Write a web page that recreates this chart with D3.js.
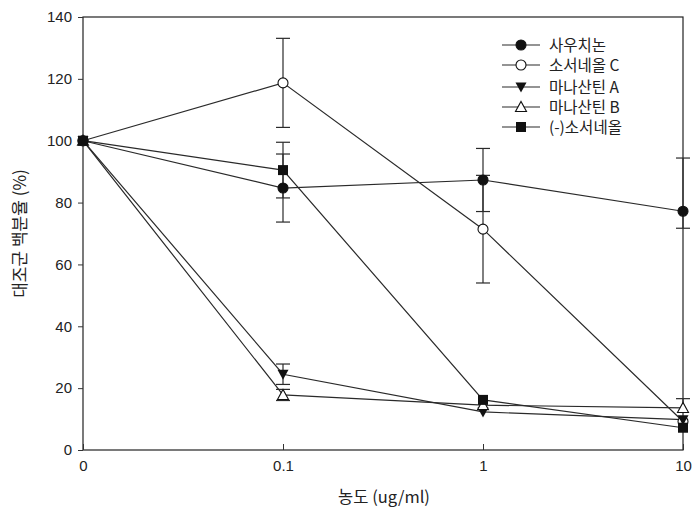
<!DOCTYPE html>
<html>
<head>
<meta charset="utf-8">
<script src="https://cdn.jsdelivr.net/npm/d3@7"></script>
<style>
  body { margin: 0; background: #fff; }
  svg { display: block; }
  text { font-family: "Noto Sans CJK KR", "Noto Sans", sans-serif; fill: #222; }
</style>
</head>
<body>
<svg id="chart" width="693" height="510"></svg>
<script>
// concentrations (equally spaced categories on the x axis)
const doses = ["0", "0.1", "1", "10"];

const seriesNames = ["사우치논", "소서네올 C", "마나산틴 A", "마나산틴 B", "(-)소서네올"];
const seriesSymbols = ["circleFilled", "circleOpen", "triangleDown", "triangleUpOpen", "square"];

// % of control
const sauchinone  = [100, 84.7, 87.3, 77.2];
const saucerneolC = [100, 118.7, 71.4, 9.2];
const manassantinA = [100, 24.5, 12.3, 9.8];
const manassantinB = [100, 17.8, 14.5, 13.6];
const saucerneolMinus = [100, 90.5, 16.2, 7.2];

// error bars: upper / lower extents
const sauchinoneErrUp  = [0, 11, 10.2, 17.2];
const sauchinoneErrLo  = [0, 11, 10.2, 5.5];
const saucerneolCErrUp = [0, 14.4, 17.4, 0];
const saucerneolCErrLo = [0, 14.4, 17.4, 0];
const manassantinAErrUp = [0, 3.3, 0, 0];
const manassantinAErrLo = [0, 3.3, 0, 0];
const manassantinBErrUp = [0, 1.8, 0, 3];
const manassantinBErrLo = [0, 1.8, 0, 0];
const saucerneolMinusErrUp = [0, 9, 0, 0];
const saucerneolMinusErrLo = [0, 9, 0, 0];

const yTicks = [0, 20, 40, 60, 80, 100, 120, 140];

const allValues = [sauchinone, saucerneolC, manassantinA, manassantinB, saucerneolMinus];
const allErrUp = [sauchinoneErrUp, saucerneolCErrUp, manassantinAErrUp, manassantinBErrUp, saucerneolMinusErrUp];
const allErrLo = [sauchinoneErrLo, saucerneolCErrLo, manassantinAErrLo, manassantinBErrLo, saucerneolMinusErrLo];

const svg = d3.select("#chart");
const plotLeft = 83, plotRight = 683, plotTop = 17, plotBottom = 450;

const x = d3.scalePoint().domain(doses).range([plotLeft, plotRight]).padding(0);
const y = d3.scaleLinear().domain([0, 140]).range([plotBottom, plotTop]);

const lineColor = "#2a2a2a";
const labelFont = "'Liberation Sans', Arial, sans-serif";

// frame
svg.append("rect")
  .attr("x", plotLeft).attr("y", plotTop)
  .attr("width", plotRight - plotLeft).attr("height", plotBottom - plotTop)
  .attr("fill", "none").attr("stroke", "#222").attr("stroke-width", 1.2);

// y axis
const yAxis = svg.append("g")
  .attr("transform", `translate(${plotLeft},0)`)
  .call(d3.axisLeft(y).tickValues(yTicks).tickSize(5).tickPadding(6));
yAxis.select(".domain").remove();
yAxis.selectAll("line").attr("stroke", "#333");
yAxis.selectAll("text").attr("font-size", 15).attr("fill", "#333")
  .style("font-family", labelFont);

// x axis (ticks pointing inward)
const xAxis = svg.append("g")
  .attr("transform", `translate(0,${plotBottom})`)
  .call(d3.axisBottom(x).tickSize(-6).tickPadding(10));
xAxis.select(".domain").remove();
xAxis.selectAll("line").attr("stroke", "#333");
xAxis.selectAll("text").attr("font-size", 15).attr("fill", "#333")
  .style("font-family", labelFont);

// axis titles
svg.append("text")
  .attr("x", 384).attr("y", 503)
  .attr("text-anchor", "middle").attr("font-size", 16.5).attr("fill", "#333")
  .text("농도 (ug/ml)");

svg.append("text")
  .attr("transform", `translate(26,${(plotTop + plotBottom) / 2}) rotate(-90)`)
  .attr("text-anchor", "middle").attr("font-size", 17).attr("fill", "#333")
  .text("대조군 백분율 (%)");

// lines
const line = d3.line().x((d, i) => x(doses[i])).y(d => y(d));
allValues.forEach(vals => {
  svg.append("path")
    .datum(vals)
    .attr("d", line)
    .attr("fill", "none")
    .attr("stroke", lineColor)
    .attr("stroke-width", 1.2);
});

// error bars
const capW = 7;
allValues.forEach((vals, s) => {
  vals.forEach((v, i) => {
    const up = allErrUp[s][i], lo = allErrLo[s][i];
    if (!up && !lo) return;
    const cx = x(doses[i]);
    const g = svg.append("g").attr("stroke", lineColor).attr("stroke-width", 1.2);
    g.append("line").attr("x1", cx).attr("x2", cx).attr("y1", y(v + up)).attr("y2", y(v - lo));
    if (up) g.append("line").attr("x1", cx - capW).attr("x2", cx + capW).attr("y1", y(v + up)).attr("y2", y(v + up));
    if (lo) g.append("line").attr("x1", cx - capW).attr("x2", cx + capW).attr("y1", y(v - lo)).attr("y2", y(v - lo));
  });
});

// markers
function drawSymbol(g, kind, cx, cy) {
  if (kind === "circleFilled" || kind === "circleOpen") {
    g.append("circle").attr("cx", cx).attr("cy", cy).attr("r", 5)
      .attr("fill", kind === "circleFilled" ? "#111" : "#fff")
      .attr("stroke", "#111").attr("stroke-width", 1.1);
  } else if (kind === "square") {
    g.append("rect").attr("x", cx - 5).attr("y", cy - 5).attr("width", 10).attr("height", 10)
      .attr("fill", "#111");
  } else if (kind === "triangleDown") {
    g.append("path")
      .attr("d", `M${cx - 5.5},${cy - 4.5}L${cx + 5.5},${cy - 4.5}L${cx},${cy + 5.5}Z`)
      .attr("fill", "#111");
  } else if (kind === "triangleUpOpen") {
    g.append("path")
      .attr("d", `M${cx - 5.5},${cy + 4.5}L${cx + 5.5},${cy + 4.5}L${cx},${cy - 5.5}Z`)
      .attr("fill", "#fff").attr("stroke", "#111").attr("stroke-width", 1.1);
  }
}

const markers = svg.append("g");
allValues.forEach((vals, s) => {
  vals.forEach((v, i) => drawSymbol(markers, seriesSymbols[s], x(doses[i]), y(v)));
});

// legend
const legend = svg.append("g");
const legendRows = [45, 65, 87, 107, 127];
seriesNames.forEach((name, s) => {
  const ly = legendRows[s];
  legend.append("line").attr("x1", 502).attr("x2", 540).attr("y1", ly).attr("y2", ly)
    .attr("stroke", lineColor).attr("stroke-width", 1.2);
  drawSymbol(legend, seriesSymbols[s], 521, ly);
  legend.append("text").attr("x", 549).attr("y", ly + 6)
    .attr("font-size", 15.5).attr("fill", "#333").text(name);
});
</script>
</body>
</html>
